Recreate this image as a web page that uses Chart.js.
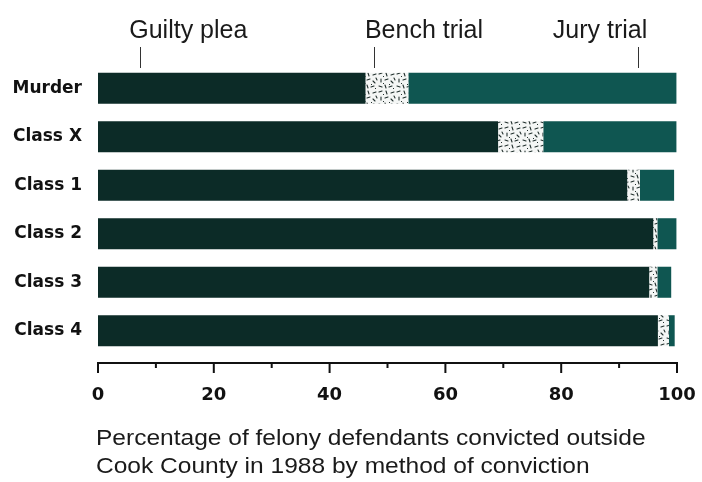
<!DOCTYPE html>
<html>
<head>
<meta charset="utf-8">
<title>Felony convictions by method</title>
<script src="https://cdn.jsdelivr.net/npm/chart.js@4.4.0/dist/chart.umd.min.js"></script>
<style>
    html, body { margin: 0; padding: 0; background: #fff; }
    #wrap { position: relative; width: 702px; height: 482px; }
    #chart { display: block; }
    #caption {
        position: absolute;
        left: 96px;
        top: 424px;
        font: 22px "Liberation Sans", Arial, sans-serif;
        line-height: 28px;
        color: #1a1a1a;
        white-space: nowrap;
        transform: scaleX(1.115);
        transform-origin: 0 0;
    }
</style>
</head>
<body>
<div id="wrap">
    <canvas id="chart" width="702" height="482"></canvas>
    <div id="caption">Percentage of felony defendants convicted outside<br>Cook County in 1988 by method of conviction</div>
</div>

<script>
// Share of convictions (%) per offence class
const categories = ['Murder', 'Class X', 'Class 1', 'Class 2', 'Class 3', 'Class 4'];
const guiltyPlea = [46.2, 69.1, 91.4, 95.9, 95.2, 96.7];
const benchTrial = [7.4, 7.8, 2.2, 0.7, 1.4, 1.9];
const juryTrial  = [46.3, 23.0, 5.9, 3.3, 2.4, 1.0];
const xTicks = [0, 20, 40, 60, 80, 100];

const canvas = document.getElementById('chart');
const ctx = canvas.getContext('2d');

// White tile with small dark squiggles for the bench-trial segment
function speckle() {
    const tile = document.createElement('canvas');
    tile.width = 18;
    tile.height = 18;
    const g = tile.getContext('2d');
    g.fillStyle = '#f4f6f5';
    g.fillRect(0, 0, 18, 18);
    g.strokeStyle = '#22302e';
    g.lineWidth = 1.1;
    g.lineCap = 'round';
    const strokes = [
        [1, 2, 4, 1], [8, 1, 9, 4], [13, 3, 16, 2], [3, 7, 3, 10],
        [7, 8, 10, 7], [13, 9, 15, 11], [1, 14, 4, 15], [7, 13, 8, 16],
        [11, 15, 14, 14], [16, 6, 17, 8]
    ];
    strokes.forEach(s => {
        g.beginPath();
        g.moveTo(s[0], s[1]);
        g.lineTo(s[2], s[3]);
        g.stroke();
    });
    g.fillStyle = '#22302e';
    [[5, 4], [11, 12], [15, 16], [5, 11]].forEach(d => g.fillRect(d[0], d[1], 1, 1));
    return ctx.createPattern(tile, 'repeat');
}

// Ruler under the bars: long ticks every 20, short ones in between
const rulerAxis = {
    id: 'rulerAxis',
    afterDraw(chart) {
        const { ctx, chartArea, scales: { x } } = chart;
        const y0 = chartArea.bottom + 8;
        ctx.save();
        ctx.strokeStyle = '#111';
        ctx.lineWidth = 2;
        ctx.beginPath();
        ctx.moveTo(x.getPixelForValue(0) - 1, y0);
        ctx.lineTo(x.getPixelForValue(100) + 1, y0);
        for (let v = 0; v <= 100; v += 10) {
            const px = x.getPixelForValue(v);
            const len = v % 20 === 0 ? 10 : 5;
            ctx.moveTo(px, y0 - 1);
            ctx.lineTo(px, y0 + len);
        }
        ctx.stroke();
        ctx.restore();
    }
};

// Series names across the top with short leader lines
const seriesKey = {
    id: 'seriesKey',
    afterDraw(chart, args, opts) {
        const { ctx, scales: { x } } = chart;
        ctx.save();
        ctx.font = '25px "Liberation Sans", Arial, sans-serif';
        ctx.fillStyle = '#1a1a1a';
        ctx.textAlign = 'center';
        ctx.textBaseline = 'alphabetic';
        ctx.strokeStyle = '#333';
        ctx.lineWidth = 1;
        chart.data.datasets.forEach((ds, i) => {
            ctx.fillText(ds.label, x.getPixelForValue(opts.labelAt[i]), 38);
            const lx = Math.round(x.getPixelForValue(opts.leaderAt[i])) + 0.5;
            ctx.beginPath();
            ctx.moveTo(lx, 47);
            ctx.lineTo(lx, 68);
            ctx.stroke();
        });
        ctx.restore();
    }
};

new Chart(ctx, {
    type: 'bar',
    data: {
        labels: categories,
        datasets: [
            { label: 'Guilty plea', data: guiltyPlea, backgroundColor: '#0c2b27' },
            { label: 'Bench trial', data: benchTrial, backgroundColor: speckle() },
            { label: 'Jury trial',  data: juryTrial,  backgroundColor: '#0f5651' }
        ]
    },
    options: {
        indexAxis: 'y',
        responsive: false,
        animation: false,
        categoryPercentage: 0.64,
        barPercentage: 1,
        layout: { padding: { top: 64, left: 8, right: 25, bottom: 67 } },
        datasets: { bar: { borderWidth: 0, borderSkipped: false } },
        plugins: {
            legend: { display: false },
            tooltip: { enabled: false },
            seriesKey: { labelAt: [15.6, 56.3, 86.7], leaderAt: [7.3, 47.7, 93.3] }
        },
        scales: {
            x: {
                stacked: true,
                min: 0,
                max: 100,
                afterBuildTicks: s => { s.ticks = xTicks.map(v => ({ value: v })); },
                afterFit: s => {
                    s.height = 60;
                    s.paddingLeft = 0;
                    s.paddingRight = 0;
                },
                grid: { display: false },
                border: { display: false },
                ticks: {
                    padding: 22,
                    maxRotation: 0,
                    color: '#111',
                    font: { family: '"DejaVu Sans"', size: 18, weight: 'bold' }
                }
            },
            y: {
                stacked: true,
                afterFit: s => { s.width = 90; },
                grid: { display: false },
                border: { display: false },
                ticks: {
                    padding: 8,
                    color: '#111',
                    font: { family: '"DejaVu Sans"', size: 17, weight: 'bold' }
                }
            }
        }
    },
    plugins: [rulerAxis, seriesKey]
});
</script>
</body>
</html>
